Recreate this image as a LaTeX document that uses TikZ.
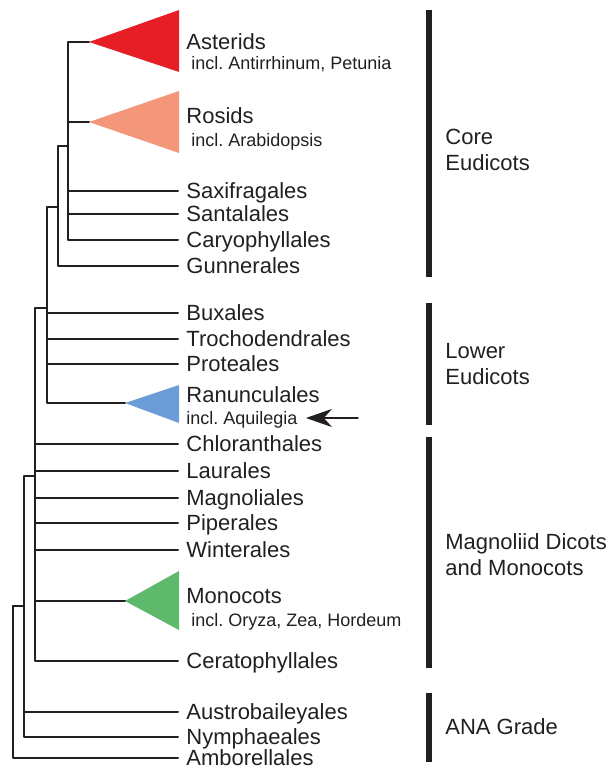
\documentclass[tikz,border=0pt]{standalone}
\usepackage{fontspec}
\setmainfont{Liberation Sans}
\usetikzlibrary{arrows.meta,positioning}
\definecolor{asterred}{RGB}{232,30,38}
\definecolor{rosidsalmon}{RGB}{243,150,122}
\definecolor{ranblue}{RGB}{108,156,214}
\definecolor{monogreen}{RGB}{94,185,108}
\definecolor{inkgray}{RGB}{35,31,32}
\begin{document}
\begin{tikzpicture}[x=0.5pt, y=-0.5pt, line join=round, line cap=round, >={Stealth[length=13pt,width=9pt,inset=4pt]},
	branch/.style={line width=1pt, draw=inkgray},
	leaf/.style={anchor=west, inner xsep=4pt, inner ysep=0pt, text height=7.9pt, text depth=0pt, text=inkgray, font=\fontsize{11}{13}\selectfont},
	incl/.style={leaf, text height=6.5pt, font=\fontsize{9}{11}\selectfont},
	grade/.style={line width=2.8pt, line cap=butt, draw=inkgray},
	gradelabel/.style={anchor=west, align=left, inner sep=0pt, text=inkgray, font=\fontsize{11}{13}\selectfont}]
	\useasboundingbox (0,0) rectangle (611,770);
	\def\tip{178} \def\bar{429}
	% internal nodes of the tree
	\coordinate (root) at (13,606);
	\coordinate (ana) at (24,606);
	\coordinate (mag) at (35,476);
	\coordinate (eud) at (47,308);
	\coordinate (gun) at (58,207);
	\coordinate (core) at (68,146);
	% collapsed clades
	\coordinate (ast) at (89,42);
	\coordinate (ros) at (89,122);
	\coordinate (ran) at (125,403);
	\coordinate (mon) at (125,601);
	\fill[asterred] (ast)--++(90,-32)--++(0,62)--cycle;
	\fill[rosidsalmon] (ros)--++(90,-31)--++(0,62)--cycle;
	\fill[ranblue] (ran)--++(54,-18)--++(0,38)--cycle;
	\fill[monogreen] (mon)--++(54,-30)--++(0,59)--cycle;
	% leaves
	\node[leaf] (astl) at (\tip,42) {Asterids};
	\node[incl] (asti) at (\tip+5,63) {incl.\ Antirrhinum, Petunia};
	\node[leaf] (rosl) at (\tip,116) {Rosids};
	\node[incl] (rosi) at (\tip+5,140) {incl.\ Arabidopsis};
	\node[leaf] (sax) at (\tip,191) {Saxifragales};
	\node[leaf] (san) at (\tip,214) {Santalales};
	\node[leaf] (car) at (\tip,240) {Caryophyllales};
	\node[leaf] (gunl) at (\tip,266) {Gunnerales};
	\node[leaf] (bux) at (\tip,313) {Buxales};
	\node[leaf] (tro) at (\tip,339) {Trochodendrales};
	\node[leaf] (pro) at (\tip,364) {Proteales};
	\node[leaf] (ranl) at (\tip,395) {Ranunculales};
	\node[incl] (rani) at (\tip,418) {incl.\ Aquilegia};
	\node[leaf] (chl) at (\tip,444) {Chloranthales};
	\node[leaf] (lau) at (\tip,471) {Laurales};
	\node[leaf] (mgn) at (\tip,498) {Magnoliales};
	\node[leaf] (pip) at (\tip,523) {Piperales};
	\node[leaf] (win) at (\tip,550) {Winterales};
	\node[leaf] (monl) at (\tip,596) {Monocots};
	\node[incl] (moni) at (\tip+5,620) {incl.\ Oryza, Zea, Hordeum};
	\node[leaf] (cer) at (\tip,661) {Ceratophyllales};
	\node[leaf] (aus) at (\tip,712) {Austrobaileyales};
	\node[leaf] (nym) at (\tip,737) {Nymphaeales};
	\node[leaf] (amb) at (\tip,758) {Amborellales};
	% branches
	\foreach \c in {ana,amb} \draw[branch] (root) |- (\c);
	\foreach \c in {mag,aus,nym} \draw[branch] (ana) |- (\c);
	\foreach \c in {eud,chl,lau,mgn,pip,win,mon,cer} \draw[branch] (mag) |- (\c);
	\foreach \c in {gun,bux,tro,pro,ran} \draw[branch] (eud) |- (\c);
	\foreach \c in {core,gunl} \draw[branch] (gun) |- (\c);
	\foreach \c in {ast,ros,sax,san,car} \draw[branch] (core) |- (\c);
	% arrow to Aquilegia
	\coordinate[right=26pt of rani.east] (arr);
	\draw[->, line width=1pt, draw=inkgray, fill=inkgray] (arr) -- (rani.east);
	% grades
	\foreach \a/\b in {10/277,303/425,437/668,693/762} \draw[grade] (\bar,\a) -- (\bar,\b);
	\node[gradelabel] (corel) at (445,150) {Core\\Eudicots};
	\node[gradelabel] (lowl) at (445,364.5) {Lower\\Eudicots};
	\node[gradelabel] (magl) at (445,554.5) {Magnoliid Dicots\\and Monocots};
	\node[gradelabel, text height=7.9pt, text depth=0pt] (anal) at (445,727) {ANA Grade};
\end{tikzpicture}
\end{document}
